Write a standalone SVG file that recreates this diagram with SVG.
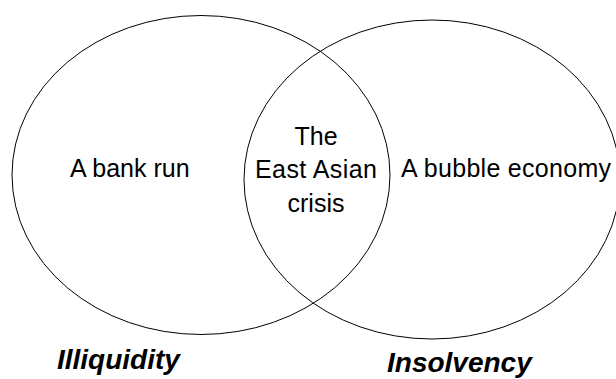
<svg xmlns="http://www.w3.org/2000/svg" width="616" height="379" viewBox="0 0 616 379">
<style>
.set{fill:none;stroke:#000;stroke-width:1}
.lbl{font-family:"Liberation Sans",Arial,sans-serif;font-size:25px;fill:#000}
.cap{font-family:"Liberation Sans",Arial,sans-serif;font-size:28px;font-weight:bold;font-style:italic;fill:#000}
</style>
<rect width="616" height="379" fill="#fff"/>
<g id="illiquidity">
<ellipse class="set" cx="201" cy="175" rx="189" ry="159.5"/>
<text class="lbl" x="70" y="177">A bank run</text>
<text class="cap" x="57" y="369">Illiquidity</text>
</g>
<g id="insolvency">
<ellipse class="set" cx="432" cy="179.5" rx="188" ry="159.5"/>
<text class="lbl" x="401" y="177" textLength="210">A bubble economy</text>
<text class="cap" x="387" y="371.5">Insolvency</text>
</g>
<g id="overlap">
<text class="lbl" text-anchor="middle" x="316" y="145">The</text>
<text class="lbl" text-anchor="middle" x="316" y="177.5" textLength="122">East Asian</text>
<text class="lbl" text-anchor="middle" x="316" y="212">crisis</text>
</g>
<g id="connectors"/>
</svg>
